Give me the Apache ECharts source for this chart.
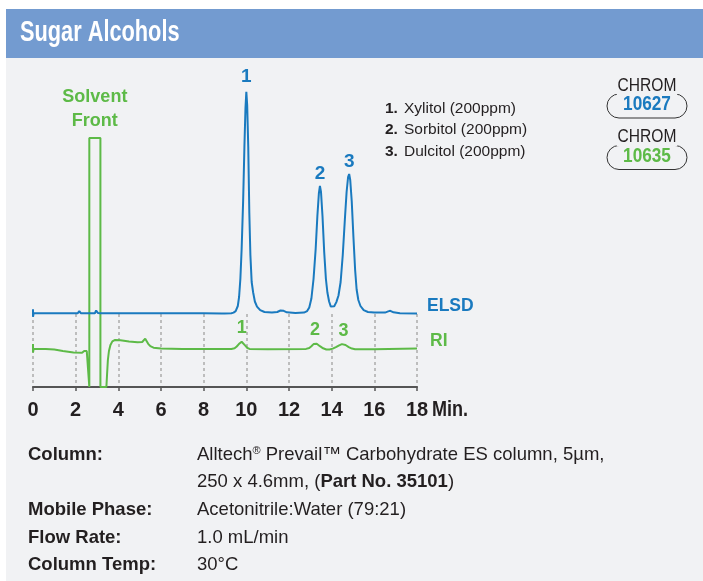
<!DOCTYPE html>
<html>
<head>
<meta charset="utf-8">
<script src="https://cdn.jsdelivr.net/npm/echarts@6/dist/echarts.min.js"></script>
<style>
  html, body { margin: 0; padding: 0; background: #ffffff; }
  #wrap { position: relative; width: 703px; height: 581px; overflow: hidden; }
  #panel { position: absolute; left: 6px; top: 9px; right: 0; bottom: 0; background: #f1f2f4; }
  #bar { position: absolute; left: 6px; top: 9px; right: 0; height: 49px; background: #739bd0; }
  #chart { position: absolute; left: 0; top: 0; width: 703px; height: 581px; }
</style>
</head>
<body>
<div id="wrap">
  <div id="panel"></div>
  <div id="bar"></div>
  <div id="chart"></div>
</div>
<script>
// Colors
const BLUE = "#1a7abf";
const GREEN = "#5dba47";
const INK = "#231f20";
const BG = "#f1f2f4";
const SANS = "'Liberation Sans', Arial, sans-serif";
// the original uses a condensed face; squeeze the free text a bit
const SQUEEZE = 0.82;

// x axis, minutes
const xTicks = [0, 2, 4, 6, 8, 10, 12, 14, 16, 18];

// ELSD trace (time in min, signal in arbitrary units, offset above RI)
const elsdTimes = [
  0, 0, 0.03, 1.0, 2.1, 2.17, 2.24, 2.9, 2.96, 3.04, 3.1, 3.16, 5.0, 8.0,
  8.85, 8.92, 8.98, 9.3, 9.4, 9.5, 9.6, 9.66, 9.72, 9.78, 9.85, 9.91, 9.96,
  10.0, 10.04, 10.09, 10.14, 10.19, 10.25, 10.32, 10.4, 10.5, 10.65, 10.85,
  11.2, 11.45, 11.6, 11.75, 11.9, 12.3, 12.7, 12.85, 12.95, 13.05, 13.15,
  13.25, 13.33, 13.4, 13.45, 13.5, 13.57, 13.65, 13.73, 13.8, 13.88, 13.96,
  14.03, 14.12, 14.22, 14.32, 14.42, 14.52, 14.62, 14.7, 14.77, 14.82, 14.87,
  14.94, 15.02, 15.1, 15.17, 15.25, 15.35, 15.5, 15.7, 16.0, 16.5, 16.65,
  16.75, 16.9, 17.2, 18.0
];
const elsdValues = [
  25.9, 23.4, 24.6, 24.6, 24.6, 25.3, 24.6, 24.6, 25.5, 24.7, 25.2, 24.6, 24.6, 24.6,
  24.5, 24.9, 24.5, 24.6, 24.8, 25.3, 27, 30, 36, 46, 62, 80, 93,
  98.4, 94, 80, 58, 44, 35, 31.5, 28.5, 26.8, 25.6, 25.0,
  24.8, 25.0, 25.5, 25.4, 24.9, 24.7, 24.8, 25.3, 26.5, 29.5, 36,
  46, 57, 64.5, 67, 65, 57, 45, 36, 31.5, 28.5, 26.8,
  26.3, 26.9, 28.3, 30.5, 35, 44, 56, 65, 70, 71, 69,
  62, 50, 39, 32.5, 29, 27, 25.6, 25, 24.8, 24.8, 25.2,
  25.4, 24.9, 24.6, 24.5
];

// RI trace
const riTimes = [
  0, 0, 0.03, 0.6, 1.0, 1.4, 1.9, 2.3, 2.4, 2.46, 2.52, 2.6, 2.64, 2.64,
  3.16, 3.16, 3.44, 3.47, 3.51, 3.56, 3.63, 3.72, 3.85, 4.1, 4.5, 4.9, 5.12,
  5.2, 5.26, 5.32, 5.4, 5.5, 5.65, 6.0, 7.0, 9.3, 9.45, 9.55, 9.65, 9.72,
  9.78, 9.85, 9.95, 10.05, 10.15, 11.0, 12.8, 12.95, 13.05, 13.15, 13.22,
  13.3, 13.45, 13.6, 13.75, 13.9, 14.05, 14.2, 14.35, 14.48, 14.55, 14.65,
  14.8, 14.95, 15.1, 16.0, 18.0
];
const riValues = [
  14.3, 11.5, 12.7, 12.7, 12.5, 12.0, 11.5, 11.4, 12.0, 12.6, 12.0, 11.7, 0, 83,
  83, 0, 0, 4, 9, 12, 14, 15.2, 15.7, 15.6, 15.2, 14.9, 15.0,
  15.6, 16.1, 15.5, 14.4, 13.6, 13.1, 12.8, 12.7, 12.7, 12.9, 13.5, 14.3, 14.9,
  15.1, 14.8, 13.8, 13.0, 12.7, 12.6, 12.7, 13.0, 13.6, 14.3, 14.6,
  14.4, 13.6, 12.9, 12.5, 12.5, 12.8, 13.3, 13.9, 14.3, 14.3, 14.0,
  13.3, 12.8, 12.6, 12.6, 12.8
];

// peaks
const peakLabels = ["1", "2", "3"];
const peakNames = ["Xylitol (200ppm)", "Sorbitol (200ppm)", "Dulcitol (200ppm)"];
const elsdPeakTimes = [10.0, 13.45, 14.82];
const riPeakTimes = [9.78, 13.22, 14.55];
const solventFrontTime = 2.9;

// conditions table
const condLabels = ["Column:", "", "Mobile Phase:", "Flow Rate:", "Column Temp:"];
const condValues = [
  "Alltech{sup|®} Prevail™ Carbohydrate ES column, 5µm,",
  "250 x 4.6mm, ({b|Part No. 35101})",
  "Acetonitrile:Water (79:21)",
  "1.0 mL/min",
  "30°C"
];

const chromIds = ["10627", "10635"];
const chromColors = [BLUE, GREEN];

const elsdData = elsdTimes.map((t, i) => [t, elsdValues[i]]);
const riData = riTimes.map((t, i) => [t, riValues[i]]);

function peakValue(times, values, t) {
  return values[times.indexOf(t)];
}

const chart = echarts.init(document.getElementById("chart"));

const graphics = [];

// title
graphics.push({
  type: "text", x: 20, y: 33, scaleX: 0.75,
  style: { text: "Sugar Alcohols", fill: "#fff",
    font: "bold 29px " + SANS, verticalAlign: "middle" }
});

// compound list
const legendY = [108.5, 130, 151.5];
peakLabels.forEach((p, i) => {
  graphics.push({ type: "text", style: { text: p + ".", x: 385, y: legendY[i], fill: INK,
    font: "bold 15.5px " + SANS, verticalAlign: "middle" } });
  graphics.push({ type: "text", style: { text: peakNames[i], x: 404, y: legendY[i], fill: INK,
    font: "15.5px " + SANS, verticalAlign: "middle" } });
});

// "Min." after last tick
graphics.push({ type: "text", x: 432, y: 410, scaleX: SQUEEZE,
  style: { text: "Min.", fill: INK, font: "bold 22px " + SANS, verticalAlign: "middle" } });

// CHROM badges
chromIds.forEach((id, i) => {
  const dy = i * 51.5;
  graphics.push({ type: "rect", z: 1, shape: { x: 607, y: 94 + dy, width: 80, height: 24, r: 12 },
    style: { fill: null, stroke: "#333", lineWidth: 1 } });
  graphics.push({ type: "text", z: 2, x: 647, y: 85.5 + dy, scaleX: SQUEEZE,
    style: { text: "CHROM", fill: INK, font: "19px " + SANS, align: "center",
      verticalAlign: "middle", backgroundColor: BG, padding: [0, 1] } });
  graphics.push({ type: "text", z: 2, x: 647, y: 104.5 + dy, scaleX: SQUEEZE,
    style: { text: id, fill: chromColors[i], font: "bold 21px " + SANS,
      align: "center", verticalAlign: "middle" } });
});

// conditions
const condY = [454.5, 482, 510, 537.7, 565];
condLabels.forEach((lab, i) => {
  if (lab) {
    graphics.push({ type: "text", style: { text: lab, x: 28, y: condY[i], fill: INK,
      font: "bold 18.5px " + SANS, verticalAlign: "middle" } });
  }
  graphics.push({ type: "text", style: { text: condValues[i], x: 197, y: condY[i], fill: INK,
    font: "18.5px " + SANS, verticalAlign: "middle",
    rich: {
      sup: { fontSize: 11, fontFamily: SANS, fill: INK, verticalAlign: "top", padding: [0, 0, 8, 0] },
      b: { fontSize: 18.5, fontWeight: "bold", fontFamily: SANS, fill: INK }
    } } });
});

const option = {
  animation: false,
  backgroundColor: "transparent",
  grid: [
    { left: 33, right: 286, top: 87, bottom: 194 },
    { left: 33, right: 286, top: 314, bottom: 194 }
  ],
  xAxis: [
    {
      type: "value", gridIndex: 0, min: 0, max: 18, interval: 2,
      axisLine: { show: true, onZero: false, lineStyle: { color: "#555", width: 2 } },
      axisTick: { show: true, length: 4, lineStyle: { color: "#555", width: 1.5 } },
      axisLabel: {
        margin: 13, color: INK, fontSize: 20, fontWeight: "bold", fontFamily: SANS,
        formatter: (v) => (xTicks.includes(v) ? String(v) : "")
      },
      splitLine: { show: false }
    },
    {
      type: "value", gridIndex: 1, min: 0, max: 18, interval: 2,
      axisLine: { show: false }, axisTick: { show: false }, axisLabel: { show: false },
      splitLine: { show: true, showMinLine: true, showMaxLine: true,
        lineStyle: { color: "#bdbdbd", width: 2, type: [3, 3] } }
    }
  ],
  yAxis: [
    { type: "value", gridIndex: 0, min: 0, max: 100, show: false },
    { type: "value", gridIndex: 1, min: 0, max: 1, show: false }
  ],
  series: [
    {
      name: "ELSD", type: "line", xAxisIndex: 0, yAxisIndex: 0,
      data: elsdData, symbol: "none", smooth: false, z: 4,
      lineStyle: { color: BLUE, width: 2 },
      endLabel: { show: true, formatter: "ELSD", distance: 10, offset: [0, -7],
        color: BLUE, fontSize: 17.5, fontWeight: "bold", fontFamily: SANS },
      markPoint: {
        symbol: "circle", symbolSize: 1, itemStyle: { color: "transparent" },
        label: { show: true, position: "top", formatter: "{b}", color: BLUE,
          fontSize: 19, fontWeight: "bold", fontFamily: SANS },
        data: elsdPeakTimes.map((t, i) => ({
          name: peakLabels[i],
          coord: [t, peakValue(elsdTimes, elsdValues, t)],
          label: { distance: i === 0 ? 5 : 2 }
        }))
      }
    },
    {
      name: "RI", type: "line", xAxisIndex: 0, yAxisIndex: 0,
      data: riData, symbol: "none", smooth: false, z: 3,
      lineStyle: { color: GREEN, width: 2 },
      endLabel: { show: true, formatter: "RI", distance: 13, offset: [0, -7],
        color: GREEN, fontSize: 17.5, fontWeight: "bold", fontFamily: SANS },
      markPoint: {
        symbol: "circle", symbolSize: 1, itemStyle: { color: "transparent" },
        label: { show: true, position: "top", formatter: "{b}", color: GREEN,
          fontSize: 18, fontWeight: "bold", fontFamily: SANS },
        data: riPeakTimes.map((t, i) => ({
          name: peakLabels[i],
          coord: [t, peakValue(riTimes, riValues, t)],
          label: { distance: 4 }
        })).concat([{
          name: "Solvent\nFront",
          coord: [solventFrontTime, 83],
          label: { distance: 4, fontSize: 18, lineHeight: 24 }
        }])
      }
    }
  ],
  graphic: graphics
};

chart.setOption(option);
</script>
</body>
</html>
